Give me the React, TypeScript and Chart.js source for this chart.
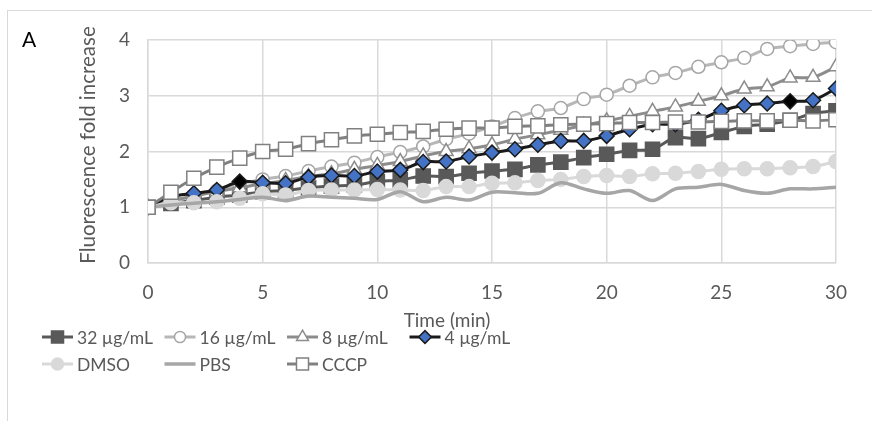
import React, { useEffect, useRef } from 'react';
import { Chart, registerables } from 'chart.js';

Chart.register(...registerables);

const times = [0, 1, 2, 3, 4, 5, 6, 7, 8, 9, 10, 11, 12, 13, 14, 15, 16, 17, 18, 19, 20, 21, 22, 23, 24, 25, 26, 27, 28, 29, 30];
const xTicks = [0, 5, 10, 15, 20, 25, 30];
const yTicks = [0, 1, 2, 3, 4];

const s32 = [1.0, 1.07, 1.12, 1.18, 1.22, 1.28, 1.3, 1.35, 1.38, 1.4, 1.46, 1.49, 1.56, 1.55, 1.61, 1.65, 1.68, 1.76, 1.81, 1.89, 1.95, 2.02, 2.04, 2.25, 2.23, 2.34, 2.45, 2.49, 2.56, 2.68, 2.73];
const s16 = [1.0, 1.1, 1.2, 1.3, 1.42, 1.5, 1.56, 1.65, 1.73, 1.8, 1.9, 1.99, 2.09, 2.22, 2.32, 2.45, 2.6, 2.72, 2.78, 2.94, 3.02, 3.18, 3.33, 3.41, 3.52, 3.6, 3.68, 3.84, 3.89, 3.93, 3.96];
const s8 = [1.0, 1.12, 1.2, 1.28, 1.35, 1.42, 1.48, 1.55, 1.6, 1.68, 1.75, 1.82, 1.92, 2.0, 2.05, 2.12, 2.22, 2.3, 2.38, 2.47, 2.55, 2.63, 2.72, 2.8, 2.9, 3.0, 3.12, 3.16, 3.32, 3.33, 3.52];
const s4 = [1.0, 1.19, 1.25, 1.31, 1.46, 1.44, 1.43, 1.54, 1.57, 1.56, 1.64, 1.67, 1.81, 1.82, 1.91, 1.98, 2.04, 2.12, 2.19, 2.19, 2.28, 2.4, 2.49, 2.49, 2.57, 2.73, 2.83, 2.86, 2.9, 2.92, 3.13];
const sDMSO = [1.0, 1.08, 1.08, 1.1, 1.16, 1.24, 1.22, 1.3, 1.31, 1.31, 1.32, 1.31, 1.3, 1.37, 1.37, 1.43, 1.44, 1.48, 1.5, 1.55, 1.57, 1.55, 1.6, 1.61, 1.64, 1.68, 1.69, 1.69, 1.71, 1.73, 1.82];
const sPBS = [1.0, 1.04, 1.07, 1.1, 1.14, 1.18, 1.12, 1.2, 1.18, 1.16, 1.14, 1.28, 1.1, 1.18, 1.13, 1.27, 1.26, 1.25, 1.44, 1.33, 1.25, 1.3, 1.12, 1.33, 1.36, 1.41, 1.3, 1.25, 1.33, 1.33, 1.36];
const sCCCP = [1.0, 1.27, 1.52, 1.72, 1.88, 2.0, 2.04, 2.14, 2.21, 2.28, 2.31, 2.34, 2.36, 2.4, 2.42, 2.42, 2.45, 2.46, 2.48, 2.49, 2.5, 2.52, 2.52, 2.53, 2.53, 2.54, 2.55, 2.55, 2.56, 2.55, 2.57];

const seriesNames = ['32 µg/mL', '16 µg/mL', '8 µg/mL', '4 µg/mL', 'DMSO', 'PBS', 'CCCP'];
const blackDiamondAt = [4, 28];
const panelLabel = 'A';
const xTitle = 'Time (min)';
const yTitle = 'Fluorescence fold increase';

const FONT = "Lato, 'Open Sans', sans-serif";
const TEXT = '#595959';

function drawMarker(ctx: CanvasRenderingContext2D, style: string, x: number, y: number, r: number, fill: string, stroke: string, bw: number) {
  ctx.save();
  ctx.beginPath();
  if (style === 'circle') {
    ctx.arc(x, y, r, 0, Math.PI * 2);
  } else if (style === 'rect') {
    const s = r * Math.SQRT1_2;
    ctx.rect(x - s, y - s, 2 * s, 2 * s);
  } else if (style === 'rectRot') {
    ctx.moveTo(x - r, y);
    ctx.lineTo(x, y - r);
    ctx.lineTo(x + r, y);
    ctx.lineTo(x, y + r);
    ctx.closePath();
  } else if (style === 'triangle') {
    ctx.moveTo(x, y - r);
    ctx.lineTo(x + r * Math.sin(Math.PI * 2 / 3), y - r * Math.cos(Math.PI * 2 / 3));
    ctx.lineTo(x + r * Math.sin(Math.PI * 4 / 3), y - r * Math.cos(Math.PI * 4 / 3));
    ctx.closePath();
  }
  ctx.fillStyle = fill;
  ctx.fill();
  if (bw > 0) {
    ctx.strokeStyle = stroke;
    ctx.lineWidth = bw;
    ctx.stroke();
  }
  ctx.restore();
}

const decorPlugin = {
  id: 'decor',
  beforeDraw(chart: any) {
    const ctx = chart.ctx;
    ctx.save();
    ctx.fillStyle = '#ffffff';
    ctx.fillRect(0, 0, chart.width, chart.height);
    ctx.strokeStyle = '#d9d9d9';
    ctx.lineWidth = 1;
    ctx.strokeRect(7.5, 10.5, 1000, 1000);
    ctx.restore();
  },
  afterDraw(chart: any) {
    const ctx = chart.ctx;
    ctx.save();
    ctx.fillStyle = '#000000';
    ctx.font = `21px ${FONT}`;
    ctx.textBaseline = 'middle';
    ctx.textAlign = 'left';
    ctx.fillText(panelLabel, 22, 40);

    // axis titles
    ctx.fillStyle = TEXT;
    ctx.font = `19px ${FONT}`;
    ctx.textAlign = 'center';
    ctx.fillText(xTitle, 447, 321);
    ctx.save();
    ctx.translate(88, 145);
    ctx.rotate(-Math.PI / 2);
    ctx.font = `20.5px ${FONT}`;
    ctx.fillText(yTitle, 0, 0);
    ctx.restore();

    // legend
    const rowY = [337, 364];
    const colX = [42, 164.5, 287, 409.5];
    chart.data.datasets.forEach((ds: any, i: number) => {
      const col = i % 4;
      const row = Math.floor(i / 4);
      const x0 = colX[col];
      const y = rowY[row];
      ctx.save();
      ctx.strokeStyle = ds.borderColor;
      ctx.lineWidth = ds.borderWidth;
      ctx.beginPath();
      ctx.moveTo(x0, y);
      ctx.lineTo(x0 + 31, y);
      ctx.stroke();
      ctx.restore();
      const pbg = Array.isArray(ds.pointBackgroundColor) ? ds.pointBackgroundColor[0] : ds.pointBackgroundColor;
      if (ds.pointRadius > 0) {
        drawMarker(ctx, ds.pointStyle, x0 + 15.5, y, ds.pointRadius * 0.85, pbg, ds.pointBorderColor, ds.pointBorderWidth);
      }
      ctx.fillStyle = TEXT;
      ctx.font = `17.5px ${FONT}`;
      ctx.textBaseline = 'middle';
      ctx.textAlign = 'left';
      ctx.fillText(ds.label, x0 + 35, y + 1);
    });
    ctx.restore();
  },
};

function toPoints(vals: number[]) {
  return times.map((t, i) => ({ x: t, y: vals[i] }));
}

export default function App() {
  const ref = useRef<HTMLCanvasElement>(null);

  useEffect(() => {
    if (!ref.current) return;
    const diamondFill = times.map((t) => (blackDiamondAt.includes(t) ? '#000000' : '#4472c4'));
    const base = { tension: 0.3, borderWidth: 3, pointBorderWidth: 1.5, fill: false };
    const datasets: any[] = [
      { ...base, label: seriesNames[0], data: toPoints(s32), borderColor: '#595959', pointStyle: 'rect', pointRadius: 10, pointBackgroundColor: '#595959', pointBorderColor: '#595959' },
      { ...base, label: seriesNames[1], data: toPoints(s16), borderColor: '#b7b7b7', pointStyle: 'circle', pointRadius: 6.5, pointBackgroundColor: '#ffffff', pointBorderColor: '#a6a6a6' },
      { ...base, label: seriesNames[2], data: toPoints(s8), borderColor: '#8c8c8c', pointStyle: 'triangle', pointRadius: 8, pointBackgroundColor: '#ffffff', pointBorderColor: '#8c8c8c' },
      { ...base, label: seriesNames[3], data: toPoints(s4), borderColor: '#1a1a1a', pointStyle: 'rectRot', pointRadius: 7.5, pointBackgroundColor: diamondFill, pointBorderColor: '#1a1a1a' },
      { ...base, label: seriesNames[4], data: toPoints(sDMSO), borderColor: '#d9d9d9', pointStyle: 'circle', pointRadius: 7, pointBackgroundColor: '#d9d9d9', pointBorderColor: '#d9d9d9' },
      { ...base, label: seriesNames[5], data: toPoints(sPBS), borderColor: '#a6a6a6', borderWidth: 3.5, pointStyle: 'circle', pointRadius: 0, pointBackgroundColor: '#a6a6a6', pointBorderColor: '#a6a6a6' },
      { ...base, label: seriesNames[6], data: toPoints(sCCCP), borderColor: '#808080', pointStyle: 'rect', pointRadius: 10, pointBackgroundColor: '#ffffff', pointBorderColor: '#808080' },
    ];
    datasets.forEach((d, i) => { d.order = 6 - i; });

    const chart = new Chart(ref.current, {
      type: 'line',
      data: { datasets },
      plugins: [decorPlugin],
      options: {
        responsive: false,
        animation: false,
        events: [],
        layout: { padding: { left: 0, right: 36, top: 40, bottom: 0 } },
        plugins: { legend: { display: false }, tooltip: { enabled: false } },
        scales: {
          x: {
            type: 'linear',
            min: 0,
            max: 30,
            afterBuildTicks: (s: any) => { s.ticks = xTicks.map((v) => ({ value: v })); },
            afterFit: (s: any) => { s.height = 421 - 263; },
            ticks: { color: TEXT, font: { family: FONT, size: 19 }, padding: 18, maxRotation: 0 },
            grid: { color: '#d9d9d9', lineWidth: 1.5, drawTicks: false },
            border: { color: '#d9d9d9', width: 1.5 },
          },
          y: {
            min: 0,
            max: 4,
            afterBuildTicks: (s: any) => { s.ticks = yTicks.map((v) => ({ value: v })); },
            afterFit: (s: any) => { s.width = 148; },
            ticks: { color: TEXT, font: { family: FONT, size: 19 }, padding: 18 },
            grid: { color: '#d9d9d9', lineWidth: 1.5, drawTicks: false },
            border: { color: '#d9d9d9', width: 1.5 },
          },
        },
      } as any,
    });
    return () => chart.destroy();
  }, []);

  return (
    <div style={{ position: 'fixed', left: 0, top: 0, width: 872, height: 421, background: '#fff' }}>
      <canvas ref={ref} width={872} height={421} style={{ width: 872, height: 421, display: 'block' }} />
    </div>
  );
}
